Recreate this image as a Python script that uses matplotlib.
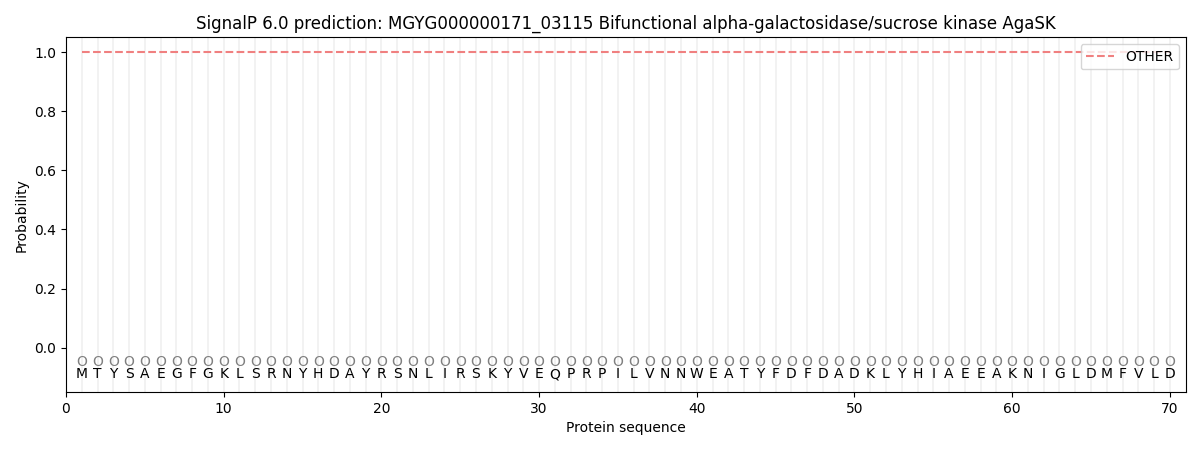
import matplotlib
matplotlib.use("Agg")
import matplotlib.pyplot as plt

sequence = list("MTYSAEGFGKLSRNYHDAYRSNLIRSKYVEQPRPILVNNWEATYFDFDADKLYHIAEEAKNIGLDMFVLD")
positions = list(range(1, len(sequence) + 1))
other_prob = [1.0] * len(sequence)
pred_labels = ["O"] * len(sequence)

fig = plt.figure(figsize=(12, 4.5), dpi=100)
ax = fig.add_axes([0.055, 0.129, 0.933, 0.788])

for p in positions:
    ax.axvline(p, color="#f0f0f0", linewidth=1.2, zorder=0)

ax.plot(positions, other_prob, linestyle="--", color="#f08080", linewidth=1.5, label="OTHER")

for p, lab, aa in zip(positions, pred_labels, sequence):
    ax.text(p, -0.05, lab, ha="center", va="center", fontsize=10, color="#808080")
    ax.text(p, -0.09, aa, ha="center", va="center", fontsize=10, color="black")

ax.set_xlim(0, 71)
ax.set_ylim(-0.15, 1.05)
ax.set_xticks([0, 10, 20, 30, 40, 50, 60, 70])
ax.set_yticks([0.0, 0.2, 0.4, 0.6, 0.8, 1.0])
ax.set_xlabel("Protein sequence")
ax.set_ylabel("Probability")
ax.set_title("SignalP 6.0 prediction: MGYG000000171_03115 Bifunctional alpha-galactosidase/sucrose kinase AgaSK")
ax.legend(loc="upper right")

fig.savefig("out.png", dpi=100)
